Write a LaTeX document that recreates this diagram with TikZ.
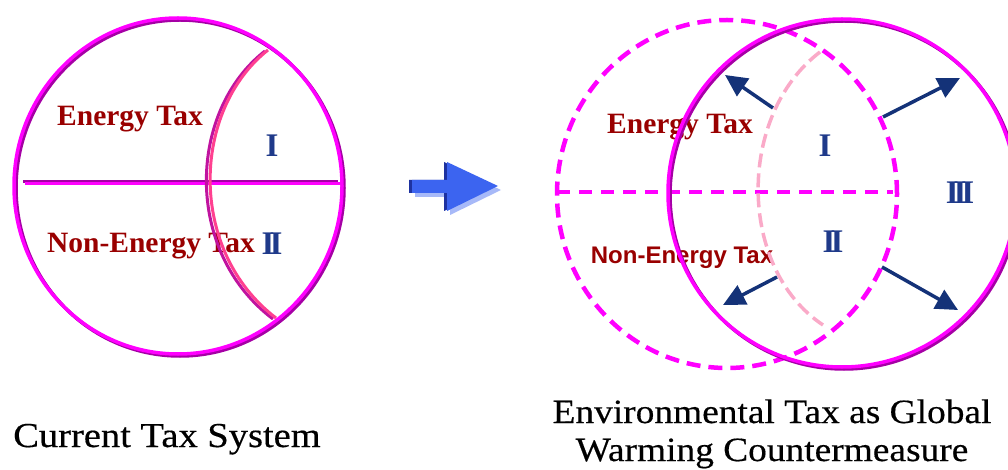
\documentclass[tikz,border=0pt]{standalone}
\usepackage{fontspec}
\newfontfamily\labelfont{Liberation Serif}
\newfontfamily\gothicfont{Liberation Sans}
\newfontfamily\titlefont[FakeStretch=1.1,FakeBold=0.4]{Liberation Serif}
\usetikzlibrary{arrows.meta}
\definecolor{taxred}{RGB}{153,0,0}
\definecolor{numblue}{RGB}{31,58,138}
\definecolor{rimpink}{RGB}{255,0,255}
\definecolor{rimdark}{RGB}{165,0,165}
\definecolor{cutpink}{RGB}{255,64,144}
\definecolor{palepink}{RGB}{250,170,200}
\definecolor{shiftblue}{RGB}{60,100,240}
\definecolor{shiftdark}{RGB}{30,50,160}
\definecolor{pushblue}{RGB}{20,50,120}
\begin{document}
\begin{tikzpicture}[x=1pt,y=-1pt]
      \tikzset{taxlabel/.style={text=taxred, inner sep=0pt, font=\labelfont\bfseries\fontsize{29.5}{32}\selectfont},
               sectlabel/.style={text=numblue, inner sep=0pt, font=\labelfont\bfseries\fontsize{33}{36}\selectfont},
               caption/.style={inner sep=0pt, align=center, anchor=base},
               rim/.style={draw=rimpink, line width=3.5pt},
               rimshade/.style={draw=rimdark, line width=3.5pt},
               oldrim/.style={draw=rimpink, line width=4.5pt, dash pattern=on 14pt off 8pt},
               push/.style={draw=pushblue, line width=3.5pt, -{Triangle[length=22pt,width=21pt]}}}
      \useasboundingbox (0,0) rectangle (1008,470);
%% Labels
      	\node[taxlabel] (energy) at (130,119) {Energy Tax};
      	\node[taxlabel] (nonenergy) at (151,246) {Non-Energy Tax};
      	\node[sectlabel] (sectI) at (272,146) {I};
      	\node[sectlabel] (sectII) at (272,244) {I\kern-5pt I};
      	\node[taxlabel] (energyR) at (680,127) {Energy Tax};
      	\node[text=taxred, inner sep=0pt, font=\gothicfont\bfseries\fontsize{24}{28}\selectfont] (nonenergyR) at (682,258) {Non-Energy Tax};
      	\node[sectlabel] (sectIR) at (825,146) {I};
      	\node[sectlabel] (sectIIR) at (833,242) {I\kern-5pt I};
      	\node[sectlabel] (sectIII) at (960,193) {I\kern-5pt I\kern-5pt I};
      	\node[caption, font=\titlefont\fontsize{35}{42}\selectfont] (current) at (167,447) {Current Tax System};
      	\node[caption, font=\titlefont\fontsize{34}{38}\selectfont] (future) at (772,461) {Environmental Tax as Global\\Warming Countermeasure};
%% Current tax system
		\draw[rimshade] (180,188) ellipse [x radius=164pt, y radius=168pt];
		\draw[rim] (178,186) ellipse [x radius=164pt, y radius=168pt];
		\draw[rimshade, line width=2.5pt] (23,181.5) -- (338,181.5);
		\draw[rim, line width=2.5pt] (25,183.5) -- (340,183.5);
		\draw[draw=rimdark!70!cutpink, line width=3pt] (265,51) .. controls (188,111) and (183,251) .. (273,319);
		\draw[cutpink, line width=3pt] (268,50) .. controls (192,110) and (187,250) .. (276,318);
%% Shift arrow
		\fill[shiftblue!45] (415,184) -- (450,184) -- (450,166) -- (501,190) -- (450,215) -- (450,197) -- (415,197) -- cycle;
		\fill[shiftdark] (409,180) -- (444,180) -- (444,162) -- (495,186) -- (444,211) -- (444,193) -- (409,193) -- cycle;
		\fill[shiftblue] (412,180) -- (447,180) -- (447,162) -- (498,186) -- (447,211) -- (447,193) -- (412,193) -- cycle;
%% Environmental tax
		\draw[oldrim] (727,194) ellipse [x radius=170pt, y radius=174pt];
		\draw[oldrim, line width=4pt, dash pattern=on 13pt off 9pt] (557,192) -- (893,192);
		\draw[draw=palepink, line width=3.5pt, dash pattern=on 14pt off 6pt] (820,52) .. controls (737,115) and (737,268) .. (823,325);
		\draw[rimshade] (844,195) circle [radius=174pt];
		\draw[rim] (842,193) circle [radius=174pt];
%Push arrows
		\coordinate (nwfrom) at (773,108); \coordinate (nwto) at (725,75);
		\coordinate (nefrom) at (883,117); \coordinate (neto) at (960,78);
		\coordinate (swfrom) at (777,277); \coordinate (swto) at (723,305);
		\coordinate (sefrom) at (882,267); \coordinate (seto) at (958,310);
		\draw[push] (nwfrom) -- (nwto);
		\draw[push] (nefrom) -- (neto);
		\draw[push] (swfrom) -- (swto);
		\draw[push] (sefrom) -- (seto);
	\end{tikzpicture}
\end{document}
